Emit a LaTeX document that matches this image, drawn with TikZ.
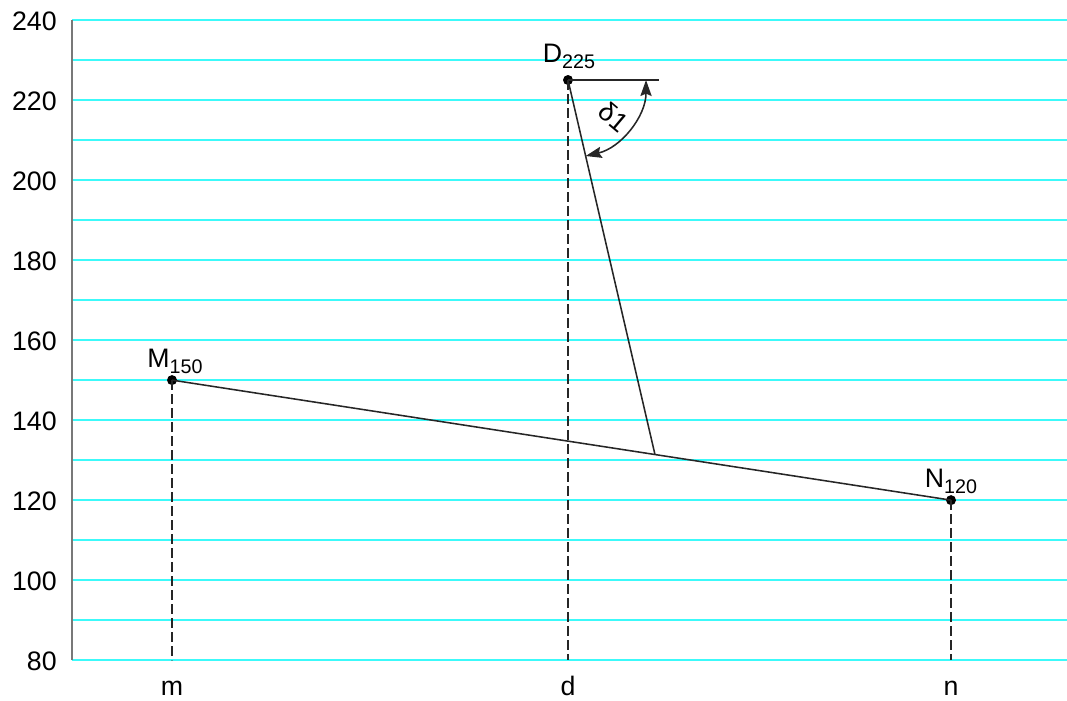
\documentclass[tikz,border=0pt]{standalone}
\usepackage{fontspec}
\setmainfont{Liberation Sans}
\usepackage{tikz}
\usetikzlibrary{positioning, arrows.meta, calc}

\definecolor{gridcyan}{RGB}{60,250,250}
\definecolor{axisgray}{RGB}{120,120,120}

\newcommand{\idx}[1]{\raisebox{-4.3pt}{\fontsize{14}{16}\selectfont #1}}

\begin{document}
\begin{tikzpicture}[
            x=0.025cm, y=0.1cm,
            gridline/.style={draw=gridcyan, line width=1.4pt},
            axis/.style={draw=axisgray, line width=1.4pt},
            ticklabel/.style={anchor=east, inner sep=0pt, font=\fontsize{19}{22}\selectfont},
            dot/.style={circle, fill=black, inner sep=0pt, minimum size=0.25cm},
            main/.style={draw=black!85, line width=1.1pt},
            proj/.style={draw=black!85, line width=1pt, dash pattern=on 0.25cm off 0.1cm},
            ptlabel/.style={anchor=base, inner sep=0pt, font=\fontsize{19}{22}\selectfont},
            anglearc/.style={main, {Stealth[length=0.4cm, width=0.28cm, inset=0.06cm]}-{Stealth[length=0.4cm, width=0.28cm, inset=0.06cm]}}
        ]

        \useasboundingbox (0,70) rectangle (1067,245);

        % Raster
        \foreach \v in {80,90,...,240}
            \draw[gridline] (72,\v) -- (1067,\v);
        \draw[axis] (72,80) -- (72,240);
        \foreach \v in {80,100,...,240}
            \node[ticklabel] (t\v) at (57,\v-0.3) {\v};

        % Punkte
        \node[dot] (M) at (172,150) {};
        \node[dot] (D) at (568,225) {};
        \node[dot] (N) at (951,120) {};
        \node[ptlabel] (Mlab) at (175,153.2) {M\idx{150}};
        \node[ptlabel] (Dlab) at (569,229.3) {D\idx{225}};
        \node[ptlabel] (Nlab) at (951,123.2) {N\idx{120}};

        % Fusspunkte
        \coordinate (m0) at (172,80);
        \coordinate (d0) at (568,80);
        \coordinate (n0) at (951,80);
        \node[ptlabel] (m) at (172,71.3) {m};
        \node[ptlabel] (d) at (568,71.3) {d};
        \node[ptlabel] (n) at (951,71.3) {n};

        \draw[proj] (M.center) -- (m0);
        \draw[proj] (D.center) -- (d0);
        \draw[proj] (N.center) -- (n0);

        % Linien
        \coordinate (F) at ($(M.center)!0.62!(N.center)$);
        \coordinate (H) at (659,225);
        \draw[main] (M.center) -- (N.center);
        \draw[main] (D.center) -- (F);
        \draw[main] (D.center) -- (H);

        % Winkel
        \draw[anglearc] ([shift={(-76.9:1.95cm)}]D.center) arc[start angle=-76.9, end angle=0, radius=1.95cm];
        \node[rotate=-40, inner sep=0pt, font=\fontsize{19}{22}\selectfont] (delta) at (614,215.8) {δ1};

    \end{tikzpicture}
\end{document}
